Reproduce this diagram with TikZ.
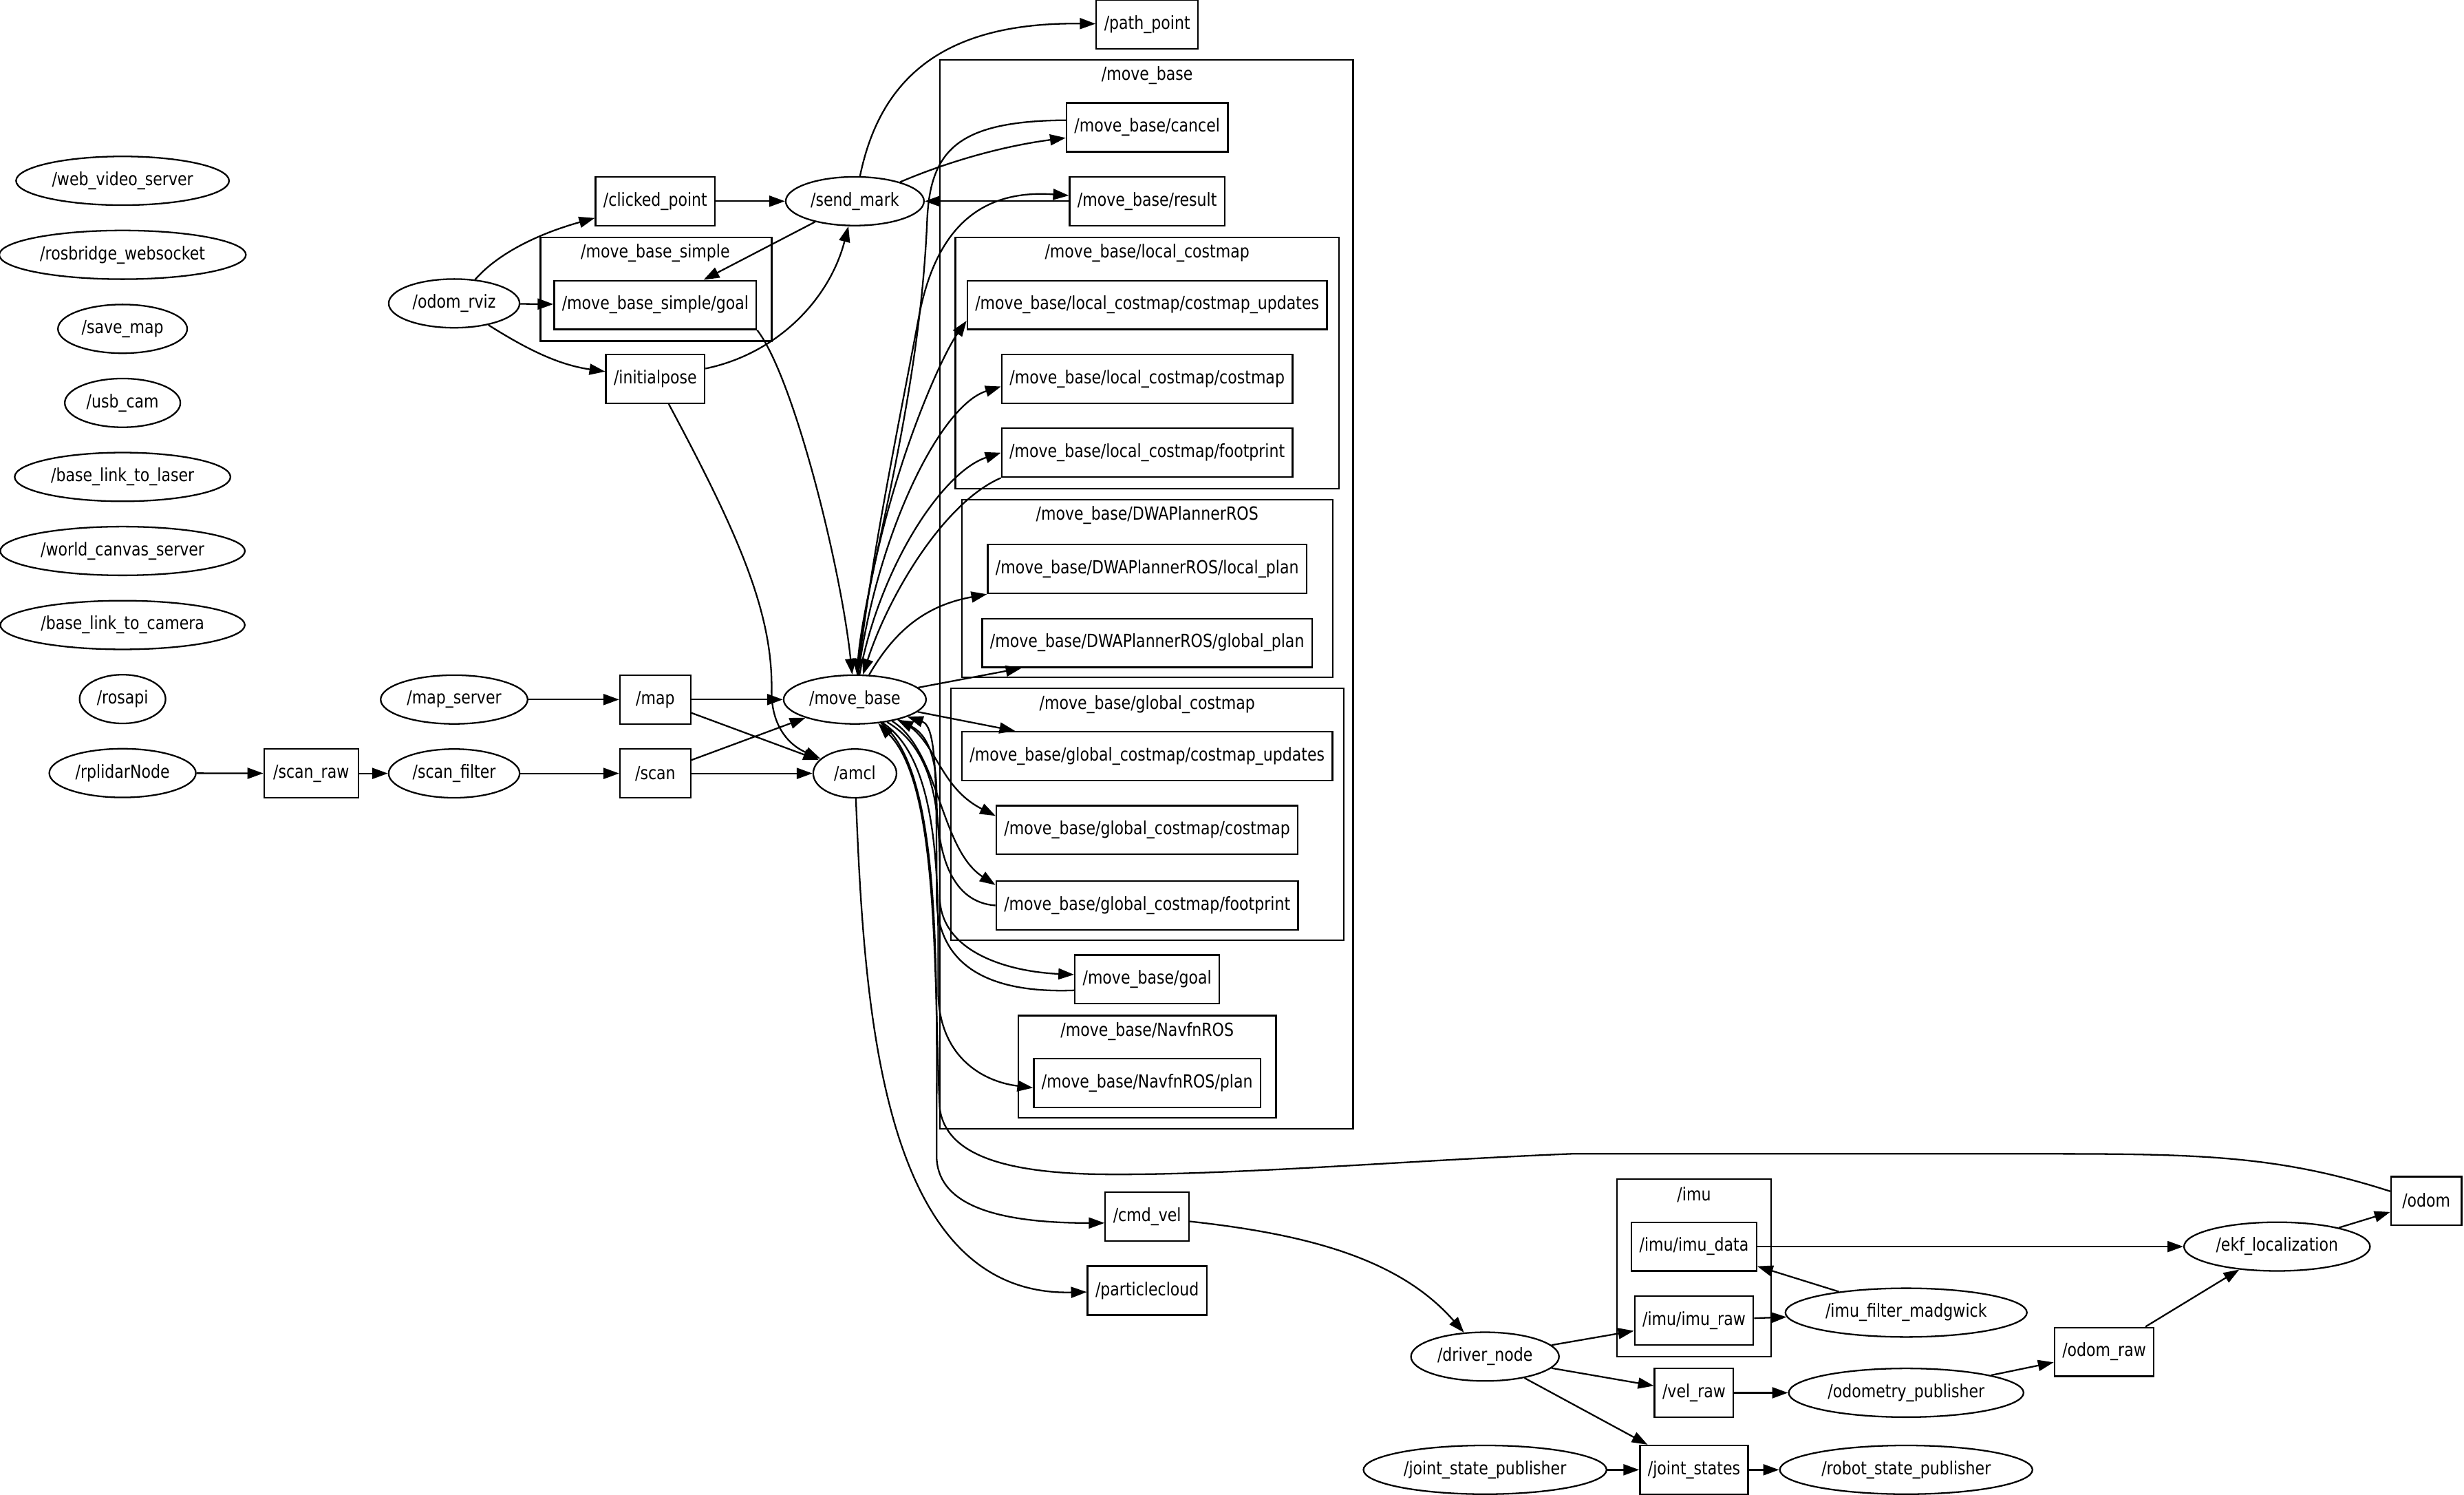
\documentclass[tikz,border=0pt]{standalone}
\usepackage{fontspec}
\setmainfont{DejaVu Sans}[FakeStretch=0.84]
\usetikzlibrary{arrows.meta,shapes.geometric,positioning}
\tikzset{
     ros node/.style={ellipse, draw, line width=1pt, minimum height=31pt, minimum width=53pt, inner xsep=3pt, inner ysep=0pt},
     topic node/.style={rectangle, draw, line width=1pt, minimum height=31pt, minimum width=45pt, inner xsep=5pt, inner ysep=0pt},
     cluster box/.style={draw, line width=1pt},
     cluster label/.style={inner sep=0pt},
     rosedge/.style={black, line width=1pt, ->, >={Triangle[length=10pt,width=7pt]}},
}

\begin{document}
\begin{tikzpicture}[x=1pt, y=-1pt, node distance=47.1pt, on grid, font=\fontsize{11.5}{13}\selectfont]
        \useasboundingbox (0,0) rectangle (1568,951);

        % namespaces
        \draw[cluster box] (344,151) rectangle (491,217);
        \node [cluster label] (lblsimple) at (417,161) {/move\_base\_simple};
        \draw[cluster box] (598,38) rectangle (861,718);
        \node [cluster label] (lblmb) at (730,48) {/move\_base};
        \draw[cluster box] (608,151) rectangle (852,311);
        \node [cluster label] (lbllocal) at (730,161) {/move\_base/local\_costmap};
        \draw[cluster box] (612,318) rectangle (848,431);
        \node [cluster label] (lbldwa) at (730,328) {/move\_base/DWAPlannerROS};
        \draw[cluster box] (605,438) rectangle (855,598);
        \node [cluster label] (lblglobal) at (730,448) {/move\_base/global\_costmap};
        \draw[cluster box] (648,646) rectangle (812,711);
        \node [cluster label] (lblnavfn) at (730,656) {/move\_base/NavfnROS};
        \draw[cluster box] (1029,750) rectangle (1127,863);
        \node [cluster label] (lblimu) at (1078,760) {/imu};

        % left column
        \node [ros node] (webvideo) at (78,115)          {/web\_video\_server};
        \node [ros node] (rosbridge) [below=of webvideo] {/rosbridge\_websocket};
        \node [ros node] (savemap) [below=of rosbridge]  {/save\_map};
        \node [ros node] (usbcam) [below=of savemap]     {/usb\_cam};
        \node [ros node] (laserlink) [below=of usbcam]   {/base\_link\_to\_laser};
        \node [ros node] (canvas) [below=of laserlink]   {/world\_canvas\_server};
        \node [ros node] (cameralink) [below=of canvas]  {/base\_link\_to\_camera};
        \node [ros node] (rosapi) [below=of cameralink]  {/rosapi};
        \node [ros node] (rplidar) [below=of rosapi]     {/rplidarNode};

        \node [topic node, minimum width=60pt] (scanraw) at (198,492) {/scan\_raw};
        \node [ros node] (scanfilter) at (289,492)  {/scan\_filter};
        \node [ros node] (mapserver) at (289,445)   {/map\_server};
        \node [topic node] (map) at (417,445)       {/map};
        \node [topic node] (scan) at (417,492)      {/scan};
        \node [ros node] (movebase) at (544,445)    {/move\_base};
        \node [ros node] (amcl) at (544,492)        {/amcl};

        \node [ros node] (odomrviz) at (289,193)    {/odom\_rviz};
        \node [topic node] (clicked) at (417,128)   {/clicked\_point};
        \node [topic node] (simplegoal) at (417,194) {/move\_base\_simple/goal};
        \node [topic node] (initialpose) at (417,241) {/initialpose};
        \node [ros node] (sendmark) at (544,128)    {/send\_mark};
        \node [topic node] (pathpoint) at (730,15.5) {/path\_point};

        \node [topic node] (cancel) at (730,81)     {/move\_base/cancel};
        \node [topic node] (result) at (730,128)    {/move\_base/result};
        \node [topic node] (lcupd) at (730,194)     {/move\_base/local\_costmap/costmap\_updates};
        \node [topic node] (lccost) at (730,241)    {/move\_base/local\_costmap/costmap};
        \node [topic node] (lcfoot) at (730,288)    {/move\_base/local\_costmap/footprint};
        \node [topic node] (localplan) at (730,362) {/move\_base/DWAPlannerROS/local\_plan};
        \node [topic node] (globalplan) at (730,409) {/move\_base/DWAPlannerROS/global\_plan};
        \node [topic node] (gcupd) at (730,481)     {/move\_base/global\_costmap/costmap\_updates};
        \node [topic node] (gccost) at (730,528)    {/move\_base/global\_costmap/costmap};
        \node [topic node] (gcfoot) at (730,576)    {/move\_base/global\_costmap/footprint};
        \node [topic node] (mbgoal) at (730,623)    {/move\_base/goal};
        \node [topic node] (navplan) at (730,689)   {/move\_base/NavfnROS/plan};
        \node [topic node] (cmdvel) at (730,774)    {/cmd\_vel};
        \node [topic node] (particle) at (730,821)  {/particlecloud};

        \node [ros node] (driver) at (945,863)      {/driver\_node};
        \node [ros node] (jsp) at (945,935)         {/joint\_state\_publisher};
        \node [topic node] (imudata) at (1078,793)  {/imu/imu\_data};
        \node [topic node] (imuraw) at (1078,840)   {/imu/imu\_raw};
        \node [ros node] (madgwick) at (1213,835)   {/imu\_filter\_madgwick};
        \node [topic node] (velraw) at (1078,886)   {/vel\_raw};
        \node [ros node] (odompub) at (1213,886)    {/odometry\_publisher};
        \node [topic node] (jointstates) at (1078,935) {/joint\_states};
        \node [ros node] (rsp) at (1213,935)        {/robot\_state\_publisher};
        \node [topic node] (odomraw) at (1339,860)  {/odom\_raw};
        \node [ros node] (ekf) at (1449,793)        {/ekf\_localization};
        \node [topic node] (odom) at (1544,764)     {/odom};

        \path[rosedge]
        (rplidar) edge (scanraw)
        (scanraw) edge (scanfilter)
        (scanfilter) edge (scan)
        (mapserver) edge (map)
        (map) edge (movebase)
        (map) edge (amcl)
        (scan) edge (movebase)
        (scan) edge (amcl)
        (odomrviz) edge (simplegoal)
        (clicked) edge (sendmark)
        (sendmark) edge (simplegoal)
        (result) edge (sendmark)
        (movebase) edge ([xshift=-80pt]globalplan.south)
        (movebase) edge ([xshift=-84pt]gcupd.north)
        (driver) edge (imuraw)
        (driver) edge (velraw)
        (driver) edge (jointstates)
        (jsp) edge (jointstates)
        (jointstates) edge (rsp)
        (imuraw) edge (madgwick)
        (madgwick) edge (imudata)
        (imudata) edge (ekf)
        (velraw) edge (odompub)
        (odompub) edge (odomraw)
        (odomraw) edge (ekf)
        (ekf) edge (odom);

        % curved connections
        \draw[rosedge] (odomrviz) .. controls (318,160) and (345,148) .. (clicked);
        \draw[rosedge] (odomrviz) .. controls (335,222) and (355,232) .. (initialpose);
        \draw[rosedge] (initialpose) .. controls (495,225) and (528,190) .. (sendmark);
        \draw[rosedge] (sendmark) .. controls (560,50) and (600,14) .. (pathpoint);
        \draw[rosedge] (sendmark) .. controls (610,100) and (645,92) .. (cancel);
        \draw[rosedge] (cancel.175) .. controls (610,77) and (592,95) .. (590,140) .. controls (585,260) and (550,370) .. (movebase);
        \draw[rosedge] (movebase) .. controls (555,350) and (572,270) .. (585,200) .. controls (595,150) and (620,120) .. (result);
        \draw[rosedge] (simplegoal.south east) .. controls (505,240) and (535,360) .. (movebase);
        \draw[rosedge] (initialpose) .. controls (470,340) and (492,390) .. (491,440) .. controls (491,462) and (502,474) .. (amcl);
        \draw[rosedge] (movebase) .. controls (556,320) and (598,228) .. (lcupd.185);
        \draw[rosedge] (movebase) .. controls (558,340) and (598,258) .. (lccost.183);
        \draw[rosedge] (movebase) .. controls (560,360) and (600,300) .. (lcfoot.west);
        \draw[rosedge] (lcfoot.south west) .. controls (600,320) and (565,380) .. (movebase);
        \draw[rosedge] (movebase) .. controls (570,400) and (590,385) .. (localplan.south west);
        \draw[rosedge] (movebase.-25) .. controls (596,468) and (596,500) .. ([yshift=9pt]gccost.west);
        \draw[rosedge] (movebase.-30) .. controls (598,478) and (598,540) .. ([yshift=-3pt]gcfoot.north west);
        \draw[rosedge] (gcfoot.west) .. controls (606,574) and (596,545) .. (596,505) .. controls (596,478) and (588,466) .. (movebase);
        \draw[rosedge] (movebase.-35) .. controls (600,480) and (598,530) .. (598,570) .. controls (598,605) and (640,618) .. ([yshift=3pt]mbgoal.west);
        \draw[rosedge] ([yshift=-7pt]mbgoal.west) .. controls (630,632) and (596,615) .. (596,570) .. controls (596,495) and (596,462) .. (movebase);
        \draw[rosedge] (movebase.-40) .. controls (600,485) and (597,570) .. (597,630) .. controls (597,672) and (625,688) .. ([yshift=-3pt]navplan.west);
        \draw[rosedge] (movebase.-42) .. controls (600,490) and (596,620) .. (596,735) .. controls (596,765) and (630,778) .. ([yshift=-4pt]cmdvel.west);
        \draw[rosedge] (odom.165) .. controls (1450,735) and (1400,734) .. (1300,734) -- (1000,734) .. controls (900,738) and (780,748) .. (700,747) .. controls (640,746) and (602,735) .. (598,705) .. controls (594,620) and (598,500) .. (movebase);
        \draw[rosedge] (amcl) .. controls (550,640) and (560,825) .. (particle);
        \draw[rosedge] (cmdvel) .. controls (830,785) and (890,800) .. (driver);
\end{tikzpicture}
\end{document}
